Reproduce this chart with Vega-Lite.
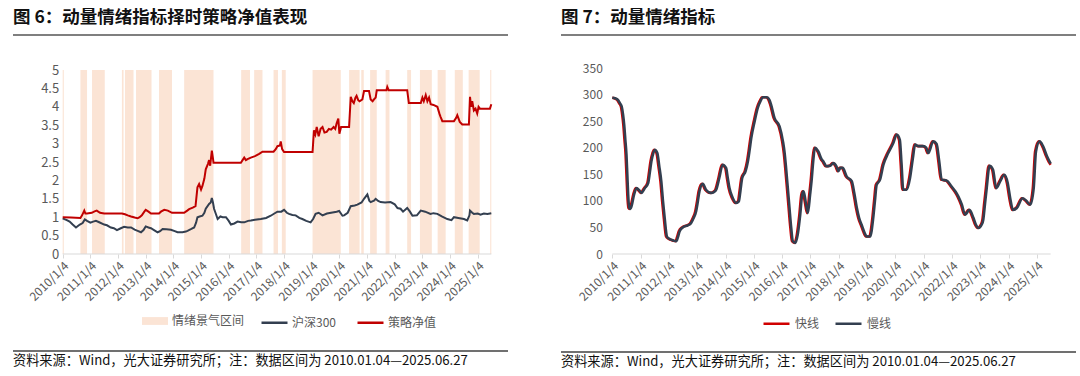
{
  "$schema": "https://vega.github.io/schema/vega-lite/v6.json",
  "background": "white",
  "padding": {"left": 12, "top": 8, "right": 0, "bottom": 0},
  "config": {
    "font": "Noto Sans CJK SC",
    "view": {"stroke": null},
    "axis": {"labelFont": "Noto Sans CJK SC", "labelColor": "#595959", "grid": false, "tickCount": 100, "labelOverlap": false},
    "legend": {"labelFont": "Noto Sans CJK SC"},
    "title": {"font": "Noto Sans CJK SC"}
  },
  "datasets": {
    "bands": [
      {"start": 2010.00, "end": 2010.04}, {"start": 2010.64, "end": 2010.88}, {"start": 2011.06, "end": 2011.52},
      {"start": 2012.14, "end": 2012.20}, {"start": 2012.25, "end": 2012.56}, {"start": 2012.65, "end": 2013.21},
      {"start": 2013.48, "end": 2013.95}, {"start": 2014.39, "end": 2015.45}, {"start": 2016.45, "end": 2016.77},
      {"start": 2016.92, "end": 2017.22}, {"start": 2017.62, "end": 2017.78}, {"start": 2017.92, "end": 2018.06},
      {"start": 2019.03, "end": 2020.05}, {"start": 2020.35, "end": 2020.73}, {"start": 2020.79, "end": 2020.88},
      {"start": 2021.11, "end": 2021.35}, {"start": 2021.67, "end": 2021.81}, {"start": 2022.45, "end": 2022.59},
      {"start": 2022.91, "end": 2023.34}, {"start": 2023.55, "end": 2023.84}, {"start": 2024.17, "end": 2024.46},
      {"start": 2024.67, "end": 2025.07}, {"start": 2025.45, "end": 2025.49}
    ],
    "hs300": [
      {"t": 2010.00, "v": 0.97}, {"t": 2010.06, "v": 0.95}, {"t": 2010.15, "v": 0.92}, {"t": 2010.25, "v": 0.88},
      {"t": 2010.36, "v": 0.80}, {"t": 2010.48, "v": 0.72}, {"t": 2010.55, "v": 0.76}, {"t": 2010.62, "v": 0.80},
      {"t": 2010.72, "v": 0.84}, {"t": 2010.80, "v": 0.94}, {"t": 2010.88, "v": 0.90}, {"t": 2011.00, "v": 0.85},
      {"t": 2011.10, "v": 0.88}, {"t": 2011.20, "v": 0.90}, {"t": 2011.30, "v": 0.87}, {"t": 2011.50, "v": 0.80},
      {"t": 2011.60, "v": 0.78}, {"t": 2011.74, "v": 0.72}, {"t": 2011.85, "v": 0.70}, {"t": 2011.96, "v": 0.65},
      {"t": 2012.10, "v": 0.70}, {"t": 2012.22, "v": 0.74}, {"t": 2012.35, "v": 0.72}, {"t": 2012.47, "v": 0.72},
      {"t": 2012.60, "v": 0.66}, {"t": 2012.71, "v": 0.63}, {"t": 2012.83, "v": 0.59}, {"t": 2012.92, "v": 0.65},
      {"t": 2013.00, "v": 0.75}, {"t": 2013.10, "v": 0.72}, {"t": 2013.19, "v": 0.70}, {"t": 2013.30, "v": 0.65},
      {"t": 2013.43, "v": 0.59}, {"t": 2013.52, "v": 0.62}, {"t": 2013.61, "v": 0.68}, {"t": 2013.75, "v": 0.67},
      {"t": 2013.91, "v": 0.66}, {"t": 2014.05, "v": 0.62}, {"t": 2014.15, "v": 0.59}, {"t": 2014.33, "v": 0.59},
      {"t": 2014.45, "v": 0.61}, {"t": 2014.51, "v": 0.63}, {"t": 2014.65, "v": 0.68}, {"t": 2014.75, "v": 0.72},
      {"t": 2014.82, "v": 0.85}, {"t": 2014.87, "v": 1.00}, {"t": 2014.95, "v": 1.02}, {"t": 2015.05, "v": 1.04},
      {"t": 2015.12, "v": 1.12}, {"t": 2015.17, "v": 1.23}, {"t": 2015.29, "v": 1.36}, {"t": 2015.35, "v": 1.40},
      {"t": 2015.39, "v": 1.52}, {"t": 2015.43, "v": 1.40}, {"t": 2015.47, "v": 1.23}, {"t": 2015.53, "v": 1.10},
      {"t": 2015.60, "v": 0.95}, {"t": 2015.70, "v": 1.02}, {"t": 2015.78, "v": 1.00}, {"t": 2015.90, "v": 1.00},
      {"t": 2016.00, "v": 0.90}, {"t": 2016.08, "v": 0.80}, {"t": 2016.20, "v": 0.83}, {"t": 2016.32, "v": 0.88},
      {"t": 2016.45, "v": 0.86}, {"t": 2016.56, "v": 0.86}, {"t": 2016.70, "v": 0.90}, {"t": 2016.80, "v": 0.91},
      {"t": 2016.95, "v": 0.93}, {"t": 2017.16, "v": 0.95}, {"t": 2017.35, "v": 0.98}, {"t": 2017.52, "v": 1.04},
      {"t": 2017.65, "v": 1.10}, {"t": 2017.76, "v": 1.15}, {"t": 2017.90, "v": 1.15}, {"t": 2018.00, "v": 1.20},
      {"t": 2018.10, "v": 1.12}, {"t": 2018.18, "v": 1.09}, {"t": 2018.30, "v": 1.06}, {"t": 2018.42, "v": 1.05},
      {"t": 2018.55, "v": 0.98}, {"t": 2018.66, "v": 0.95}, {"t": 2018.80, "v": 0.90}, {"t": 2018.96, "v": 0.86},
      {"t": 2019.05, "v": 0.95}, {"t": 2019.14, "v": 1.09}, {"t": 2019.25, "v": 1.12}, {"t": 2019.39, "v": 1.05},
      {"t": 2019.55, "v": 1.10}, {"t": 2019.75, "v": 1.13}, {"t": 2019.90, "v": 1.15}, {"t": 2019.99, "v": 1.17},
      {"t": 2020.11, "v": 1.04}, {"t": 2020.17, "v": 1.05}, {"t": 2020.30, "v": 1.12}, {"t": 2020.41, "v": 1.30},
      {"t": 2020.55, "v": 1.32}, {"t": 2020.65, "v": 1.34}, {"t": 2020.80, "v": 1.40}, {"t": 2020.89, "v": 1.50},
      {"t": 2021.01, "v": 1.62}, {"t": 2021.08, "v": 1.45}, {"t": 2021.13, "v": 1.41}, {"t": 2021.25, "v": 1.45},
      {"t": 2021.31, "v": 1.50}, {"t": 2021.40, "v": 1.44}, {"t": 2021.49, "v": 1.41}, {"t": 2021.65, "v": 1.40},
      {"t": 2021.85, "v": 1.41}, {"t": 2022.00, "v": 1.35}, {"t": 2022.10, "v": 1.25}, {"t": 2022.21, "v": 1.23},
      {"t": 2022.30, "v": 1.15}, {"t": 2022.45, "v": 1.25}, {"t": 2022.55, "v": 1.15}, {"t": 2022.64, "v": 1.04},
      {"t": 2022.80, "v": 1.05}, {"t": 2022.94, "v": 1.18}, {"t": 2023.10, "v": 1.15}, {"t": 2023.29, "v": 1.09},
      {"t": 2023.40, "v": 1.11}, {"t": 2023.54, "v": 1.09}, {"t": 2023.70, "v": 1.02}, {"t": 2023.90, "v": 0.95},
      {"t": 2024.05, "v": 0.92}, {"t": 2024.14, "v": 1.00}, {"t": 2024.30, "v": 0.98}, {"t": 2024.50, "v": 0.95},
      {"t": 2024.62, "v": 0.91}, {"t": 2024.70, "v": 1.05}, {"t": 2024.72, "v": 1.18}, {"t": 2024.80, "v": 1.12},
      {"t": 2024.86, "v": 1.09}, {"t": 2025.00, "v": 1.10}, {"t": 2025.10, "v": 1.07}, {"t": 2025.22, "v": 1.10},
      {"t": 2025.35, "v": 1.09}, {"t": 2025.49, "v": 1.11}
    ],
    "strategy": [
      {"t": 2010.00, "v": 1.00}, {"t": 2010.30, "v": 0.99}, {"t": 2010.64, "v": 0.98}, {"t": 2010.70, "v": 1.05},
      {"t": 2010.78, "v": 1.18}, {"t": 2010.82, "v": 1.10}, {"t": 2010.88, "v": 1.10}, {"t": 2011.05, "v": 1.12},
      {"t": 2011.15, "v": 1.16}, {"t": 2011.23, "v": 1.18}, {"t": 2011.35, "v": 1.12}, {"t": 2011.50, "v": 1.10},
      {"t": 2012.14, "v": 1.10}, {"t": 2012.25, "v": 1.08}, {"t": 2012.35, "v": 1.05}, {"t": 2012.47, "v": 1.02},
      {"t": 2012.60, "v": 0.99}, {"t": 2012.71, "v": 0.97}, {"t": 2012.78, "v": 1.00}, {"t": 2012.86, "v": 1.05},
      {"t": 2012.95, "v": 1.15}, {"t": 2013.00, "v": 1.20}, {"t": 2013.10, "v": 1.15}, {"t": 2013.19, "v": 1.10},
      {"t": 2013.48, "v": 1.10}, {"t": 2013.55, "v": 1.15}, {"t": 2013.67, "v": 1.20}, {"t": 2013.80, "v": 1.18},
      {"t": 2013.95, "v": 1.12}, {"t": 2014.39, "v": 1.12}, {"t": 2014.50, "v": 1.18}, {"t": 2014.57, "v": 1.22},
      {"t": 2014.70, "v": 1.26}, {"t": 2014.80, "v": 1.30}, {"t": 2014.87, "v": 1.81}, {"t": 2014.93, "v": 1.90},
      {"t": 2015.00, "v": 1.75}, {"t": 2015.05, "v": 1.85}, {"t": 2015.12, "v": 2.05}, {"t": 2015.17, "v": 2.30},
      {"t": 2015.25, "v": 2.45}, {"t": 2015.29, "v": 2.55}, {"t": 2015.33, "v": 2.40}, {"t": 2015.39, "v": 2.81},
      {"t": 2015.43, "v": 2.60}, {"t": 2015.45, "v": 2.48}, {"t": 2016.44, "v": 2.48}, {"t": 2016.50, "v": 2.55},
      {"t": 2016.56, "v": 2.62}, {"t": 2016.62, "v": 2.55}, {"t": 2016.68, "v": 2.58}, {"t": 2016.80, "v": 2.62},
      {"t": 2016.95, "v": 2.66}, {"t": 2017.10, "v": 2.72}, {"t": 2017.22, "v": 2.78}, {"t": 2017.62, "v": 2.78},
      {"t": 2017.70, "v": 2.85}, {"t": 2017.76, "v": 2.93}, {"t": 2017.85, "v": 2.95}, {"t": 2017.88, "v": 3.06},
      {"t": 2017.93, "v": 2.85}, {"t": 2018.00, "v": 2.77}, {"t": 2019.03, "v": 2.77}, {"t": 2019.08, "v": 3.36},
      {"t": 2019.13, "v": 3.25}, {"t": 2019.18, "v": 3.45}, {"t": 2019.25, "v": 3.20}, {"t": 2019.32, "v": 3.40},
      {"t": 2019.39, "v": 3.45}, {"t": 2019.46, "v": 3.30}, {"t": 2019.54, "v": 3.32}, {"t": 2019.62, "v": 3.40},
      {"t": 2019.70, "v": 3.38}, {"t": 2019.79, "v": 3.45}, {"t": 2019.85, "v": 3.40}, {"t": 2019.90, "v": 3.55},
      {"t": 2019.96, "v": 3.68}, {"t": 2020.00, "v": 3.27}, {"t": 2020.06, "v": 3.45}, {"t": 2020.35, "v": 3.45},
      {"t": 2020.41, "v": 4.27}, {"t": 2020.47, "v": 4.15}, {"t": 2020.52, "v": 4.10}, {"t": 2020.58, "v": 4.25},
      {"t": 2020.62, "v": 4.30}, {"t": 2020.68, "v": 4.18}, {"t": 2020.73, "v": 4.15}, {"t": 2020.83, "v": 4.20},
      {"t": 2020.89, "v": 4.43}, {"t": 2021.07, "v": 4.43}, {"t": 2021.13, "v": 4.20}, {"t": 2021.20, "v": 4.15},
      {"t": 2021.27, "v": 4.22}, {"t": 2021.31, "v": 4.25}, {"t": 2021.35, "v": 4.45}, {"t": 2021.70, "v": 4.45},
      {"t": 2021.73, "v": 4.54}, {"t": 2021.78, "v": 4.45}, {"t": 2022.45, "v": 4.45}, {"t": 2022.51, "v": 4.10},
      {"t": 2022.94, "v": 4.10}, {"t": 2023.00, "v": 4.25}, {"t": 2023.05, "v": 4.15}, {"t": 2023.12, "v": 4.32},
      {"t": 2023.18, "v": 4.15}, {"t": 2023.24, "v": 4.25}, {"t": 2023.30, "v": 4.07}, {"t": 2023.40, "v": 4.05},
      {"t": 2023.54, "v": 4.00}, {"t": 2023.62, "v": 3.80}, {"t": 2023.66, "v": 3.72}, {"t": 2023.72, "v": 3.61},
      {"t": 2024.14, "v": 3.61}, {"t": 2024.22, "v": 3.70}, {"t": 2024.26, "v": 3.77}, {"t": 2024.32, "v": 3.65},
      {"t": 2024.35, "v": 3.59}, {"t": 2024.44, "v": 3.52}, {"t": 2024.68, "v": 3.52}, {"t": 2024.72, "v": 4.27},
      {"t": 2024.76, "v": 4.00}, {"t": 2024.80, "v": 4.15}, {"t": 2024.86, "v": 3.90}, {"t": 2024.92, "v": 3.95},
      {"t": 2024.98, "v": 3.82}, {"t": 2025.03, "v": 4.00}, {"t": 2025.08, "v": 3.95}, {"t": 2025.44, "v": 3.95},
      {"t": 2025.49, "v": 4.07}
    ],
    "slow": [
      {"t": 2010.00, "v": 294}, {"t": 2010.10, "v": 293}, {"t": 2010.20, "v": 290}, {"t": 2010.28, "v": 283},
      {"t": 2010.33, "v": 278}, {"t": 2010.38, "v": 262}, {"t": 2010.42, "v": 243}, {"t": 2010.46, "v": 215},
      {"t": 2010.50, "v": 187}, {"t": 2010.53, "v": 150}, {"t": 2010.56, "v": 112}, {"t": 2010.60, "v": 87},
      {"t": 2010.64, "v": 85}, {"t": 2010.68, "v": 90}, {"t": 2010.77, "v": 112}, {"t": 2010.86, "v": 124},
      {"t": 2010.95, "v": 120}, {"t": 2011.03, "v": 115}, {"t": 2011.15, "v": 124}, {"t": 2011.27, "v": 134},
      {"t": 2011.33, "v": 155}, {"t": 2011.38, "v": 174}, {"t": 2011.45, "v": 190}, {"t": 2011.50, "v": 196},
      {"t": 2011.59, "v": 190}, {"t": 2011.66, "v": 165}, {"t": 2011.73, "v": 137}, {"t": 2011.79, "v": 100},
      {"t": 2011.85, "v": 68}, {"t": 2011.93, "v": 33}, {"t": 2012.00, "v": 29}, {"t": 2012.08, "v": 27},
      {"t": 2012.18, "v": 25}, {"t": 2012.26, "v": 24}, {"t": 2012.32, "v": 32}, {"t": 2012.38, "v": 43},
      {"t": 2012.49, "v": 50}, {"t": 2012.67, "v": 54}, {"t": 2012.78, "v": 58}, {"t": 2012.85, "v": 65},
      {"t": 2012.96, "v": 80}, {"t": 2013.02, "v": 98}, {"t": 2013.08, "v": 118}, {"t": 2013.20, "v": 132},
      {"t": 2013.31, "v": 121}, {"t": 2013.49, "v": 115}, {"t": 2013.60, "v": 117}, {"t": 2013.67, "v": 121},
      {"t": 2013.78, "v": 143}, {"t": 2013.90, "v": 168}, {"t": 2014.02, "v": 162}, {"t": 2014.08, "v": 143},
      {"t": 2014.14, "v": 124}, {"t": 2014.26, "v": 105}, {"t": 2014.38, "v": 96}, {"t": 2014.47, "v": 99},
      {"t": 2014.53, "v": 120}, {"t": 2014.59, "v": 143}, {"t": 2014.71, "v": 156}, {"t": 2014.79, "v": 174},
      {"t": 2014.85, "v": 195}, {"t": 2014.91, "v": 218}, {"t": 2015.03, "v": 250}, {"t": 2015.14, "v": 275},
      {"t": 2015.24, "v": 288}, {"t": 2015.32, "v": 295}, {"t": 2015.46, "v": 295}, {"t": 2015.55, "v": 290},
      {"t": 2015.61, "v": 281}, {"t": 2015.73, "v": 256}, {"t": 2015.91, "v": 240}, {"t": 2016.03, "v": 212},
      {"t": 2016.09, "v": 190}, {"t": 2016.14, "v": 162}, {"t": 2016.20, "v": 125}, {"t": 2016.26, "v": 87},
      {"t": 2016.32, "v": 50}, {"t": 2016.38, "v": 24}, {"t": 2016.47, "v": 21}, {"t": 2016.55, "v": 36},
      {"t": 2016.64, "v": 74}, {"t": 2016.71, "v": 112}, {"t": 2016.76, "v": 118}, {"t": 2016.83, "v": 99},
      {"t": 2016.91, "v": 77}, {"t": 2016.99, "v": 112}, {"t": 2017.04, "v": 137}, {"t": 2017.10, "v": 175},
      {"t": 2017.16, "v": 200}, {"t": 2017.28, "v": 193}, {"t": 2017.40, "v": 178}, {"t": 2017.46, "v": 174},
      {"t": 2017.57, "v": 165}, {"t": 2017.70, "v": 166}, {"t": 2017.81, "v": 171}, {"t": 2017.92, "v": 165},
      {"t": 2017.99, "v": 156}, {"t": 2018.06, "v": 162}, {"t": 2018.14, "v": 162}, {"t": 2018.28, "v": 146},
      {"t": 2018.46, "v": 137}, {"t": 2018.55, "v": 115}, {"t": 2018.64, "v": 87}, {"t": 2018.72, "v": 68},
      {"t": 2018.81, "v": 55}, {"t": 2018.90, "v": 42}, {"t": 2018.99, "v": 33}, {"t": 2019.11, "v": 33},
      {"t": 2019.22, "v": 68}, {"t": 2019.28, "v": 100}, {"t": 2019.34, "v": 130}, {"t": 2019.46, "v": 140},
      {"t": 2019.58, "v": 168}, {"t": 2019.75, "v": 190}, {"t": 2019.93, "v": 209}, {"t": 2020.05, "v": 225},
      {"t": 2020.16, "v": 215}, {"t": 2020.22, "v": 170}, {"t": 2020.28, "v": 121}, {"t": 2020.40, "v": 121},
      {"t": 2020.52, "v": 143}, {"t": 2020.62, "v": 180}, {"t": 2020.70, "v": 206}, {"t": 2020.81, "v": 203},
      {"t": 2020.99, "v": 203}, {"t": 2021.09, "v": 200}, {"t": 2021.17, "v": 190}, {"t": 2021.34, "v": 212},
      {"t": 2021.46, "v": 207}, {"t": 2021.55, "v": 175}, {"t": 2021.64, "v": 140}, {"t": 2021.82, "v": 138},
      {"t": 2021.99, "v": 127}, {"t": 2022.12, "v": 118}, {"t": 2022.23, "v": 108}, {"t": 2022.35, "v": 93},
      {"t": 2022.47, "v": 74}, {"t": 2022.62, "v": 83}, {"t": 2022.76, "v": 68}, {"t": 2022.85, "v": 55},
      {"t": 2022.94, "v": 49}, {"t": 2023.05, "v": 55}, {"t": 2023.11, "v": 65}, {"t": 2023.17, "v": 95},
      {"t": 2023.23, "v": 124}, {"t": 2023.33, "v": 166}, {"t": 2023.45, "v": 159}, {"t": 2023.57, "v": 124},
      {"t": 2023.71, "v": 137}, {"t": 2023.85, "v": 149}, {"t": 2023.97, "v": 134}, {"t": 2024.06, "v": 105},
      {"t": 2024.16, "v": 83}, {"t": 2024.30, "v": 87}, {"t": 2024.50, "v": 105}, {"t": 2024.63, "v": 100},
      {"t": 2024.77, "v": 93}, {"t": 2024.89, "v": 124}, {"t": 2024.97, "v": 193}, {"t": 2025.10, "v": 212},
      {"t": 2025.22, "v": 203}, {"t": 2025.36, "v": 184}, {"t": 2025.48, "v": 171}, {"t": 2025.49, "v": 170}
    ],
    "fast": [
      {"t": 2010.00, "v": 294}, {"t": 2010.07, "v": 293}, {"t": 2010.17, "v": 290}, {"t": 2010.25, "v": 283},
      {"t": 2010.30, "v": 278}, {"t": 2010.35, "v": 262}, {"t": 2010.39, "v": 243}, {"t": 2010.43, "v": 215},
      {"t": 2010.47, "v": 187}, {"t": 2010.50, "v": 150}, {"t": 2010.53, "v": 112}, {"t": 2010.57, "v": 87},
      {"t": 2010.61, "v": 85}, {"t": 2010.65, "v": 90}, {"t": 2010.74, "v": 112}, {"t": 2010.83, "v": 124},
      {"t": 2010.92, "v": 120}, {"t": 2011.00, "v": 115}, {"t": 2011.12, "v": 124}, {"t": 2011.24, "v": 134},
      {"t": 2011.30, "v": 155}, {"t": 2011.35, "v": 174}, {"t": 2011.42, "v": 190}, {"t": 2011.47, "v": 196},
      {"t": 2011.56, "v": 190}, {"t": 2011.63, "v": 165}, {"t": 2011.70, "v": 137}, {"t": 2011.76, "v": 100},
      {"t": 2011.82, "v": 68}, {"t": 2011.90, "v": 33}, {"t": 2011.97, "v": 29}, {"t": 2012.05, "v": 27},
      {"t": 2012.15, "v": 25}, {"t": 2012.23, "v": 24}, {"t": 2012.29, "v": 32}, {"t": 2012.35, "v": 43},
      {"t": 2012.46, "v": 50}, {"t": 2012.64, "v": 54}, {"t": 2012.75, "v": 58}, {"t": 2012.82, "v": 65},
      {"t": 2012.93, "v": 80}, {"t": 2012.99, "v": 98}, {"t": 2013.05, "v": 118}, {"t": 2013.17, "v": 132},
      {"t": 2013.28, "v": 121}, {"t": 2013.46, "v": 115}, {"t": 2013.57, "v": 117}, {"t": 2013.64, "v": 121},
      {"t": 2013.75, "v": 143}, {"t": 2013.87, "v": 168}, {"t": 2013.99, "v": 162}, {"t": 2014.05, "v": 143},
      {"t": 2014.11, "v": 124}, {"t": 2014.23, "v": 105}, {"t": 2014.35, "v": 96}, {"t": 2014.44, "v": 99},
      {"t": 2014.50, "v": 120}, {"t": 2014.56, "v": 143}, {"t": 2014.68, "v": 156}, {"t": 2014.76, "v": 174},
      {"t": 2014.82, "v": 195}, {"t": 2014.88, "v": 218}, {"t": 2015.00, "v": 250}, {"t": 2015.11, "v": 275},
      {"t": 2015.21, "v": 288}, {"t": 2015.29, "v": 295}, {"t": 2015.43, "v": 295}, {"t": 2015.52, "v": 290},
      {"t": 2015.58, "v": 281}, {"t": 2015.70, "v": 256}, {"t": 2015.88, "v": 240}, {"t": 2016.00, "v": 212},
      {"t": 2016.06, "v": 190}, {"t": 2016.11, "v": 162}, {"t": 2016.17, "v": 125}, {"t": 2016.23, "v": 87},
      {"t": 2016.29, "v": 50}, {"t": 2016.35, "v": 24}, {"t": 2016.44, "v": 21}, {"t": 2016.52, "v": 36},
      {"t": 2016.61, "v": 74}, {"t": 2016.68, "v": 112}, {"t": 2016.73, "v": 118}, {"t": 2016.80, "v": 99},
      {"t": 2016.88, "v": 77}, {"t": 2016.96, "v": 112}, {"t": 2017.01, "v": 137}, {"t": 2017.07, "v": 175},
      {"t": 2017.13, "v": 200}, {"t": 2017.25, "v": 193}, {"t": 2017.37, "v": 178}, {"t": 2017.43, "v": 174},
      {"t": 2017.54, "v": 165}, {"t": 2017.67, "v": 166}, {"t": 2017.78, "v": 171}, {"t": 2017.89, "v": 165},
      {"t": 2017.96, "v": 156}, {"t": 2018.03, "v": 162}, {"t": 2018.11, "v": 162}, {"t": 2018.25, "v": 146},
      {"t": 2018.43, "v": 137}, {"t": 2018.52, "v": 115}, {"t": 2018.61, "v": 87}, {"t": 2018.69, "v": 68},
      {"t": 2018.78, "v": 55}, {"t": 2018.87, "v": 42}, {"t": 2018.96, "v": 33}, {"t": 2019.08, "v": 33},
      {"t": 2019.19, "v": 68}, {"t": 2019.25, "v": 100}, {"t": 2019.31, "v": 130}, {"t": 2019.43, "v": 140},
      {"t": 2019.55, "v": 168}, {"t": 2019.72, "v": 190}, {"t": 2019.90, "v": 209}, {"t": 2020.02, "v": 225},
      {"t": 2020.13, "v": 215}, {"t": 2020.19, "v": 170}, {"t": 2020.25, "v": 121}, {"t": 2020.37, "v": 121},
      {"t": 2020.49, "v": 143}, {"t": 2020.59, "v": 180}, {"t": 2020.67, "v": 206}, {"t": 2020.78, "v": 203},
      {"t": 2020.96, "v": 203}, {"t": 2021.06, "v": 200}, {"t": 2021.14, "v": 190}, {"t": 2021.31, "v": 212},
      {"t": 2021.43, "v": 207}, {"t": 2021.52, "v": 175}, {"t": 2021.61, "v": 140}, {"t": 2021.79, "v": 138},
      {"t": 2021.96, "v": 127}, {"t": 2022.09, "v": 118}, {"t": 2022.20, "v": 108}, {"t": 2022.32, "v": 93},
      {"t": 2022.44, "v": 74}, {"t": 2022.59, "v": 83}, {"t": 2022.73, "v": 68}, {"t": 2022.82, "v": 55},
      {"t": 2022.91, "v": 49}, {"t": 2023.02, "v": 55}, {"t": 2023.08, "v": 65}, {"t": 2023.14, "v": 95},
      {"t": 2023.20, "v": 124}, {"t": 2023.30, "v": 166}, {"t": 2023.42, "v": 159}, {"t": 2023.54, "v": 124},
      {"t": 2023.68, "v": 137}, {"t": 2023.82, "v": 149}, {"t": 2023.94, "v": 134}, {"t": 2024.03, "v": 105},
      {"t": 2024.13, "v": 83}, {"t": 2024.27, "v": 87}, {"t": 2024.47, "v": 105}, {"t": 2024.60, "v": 100},
      {"t": 2024.74, "v": 93}, {"t": 2024.86, "v": 124}, {"t": 2024.94, "v": 193}, {"t": 2025.07, "v": 212},
      {"t": 2025.19, "v": 203}, {"t": 2025.33, "v": 184}, {"t": 2025.45, "v": 171}, {"t": 2025.49, "v": 168}
    ]
  },
  "resolve": {"scale": {"color": "independent", "fill": "independent", "stroke": "independent"}, "legend": {"color": "independent", "fill": "independent", "stroke": "independent"}},
  "spacing": 51,
  "hconcat": [
    {
      "spacing": 47,
      "vconcat": [
        {
          "spacing": 28,
          "vconcat": [
            {
              "width": 495, "height": 1,
              "title": {"text": "图 6：动量情绪指标择时策略净值表现", "anchor": "start", "frame": "group", "fontSize": 17.5, "fontWeight": "bold", "color": "#111111", "offset": 8},
              "data": {"values": [{}]},
              "mark": {"type": "rule", "color": "#7f7f7f", "strokeWidth": 2},
              "encoding": {"y": {"datum": 0, "type": "quantitative", "axis": null}}
            },
            {
              "width": 495, "height": 184,
              "layer": [
                {
                  "data": {"name": "bands"},
                  "mark": {"type": "rect", "opacity": 1},
                  "encoding": {
                    "x": {"field": "start", "type": "quantitative", "scale": {"domain": [2008.204, 2026.093], "nice": false, "zero": false},
                      "axis": {"values": [2010, 2011, 2012, 2013, 2014, 2015, 2016, 2017, 2018, 2019, 2020, 2021, 2022, 2023, 2024, 2025], "tickCount": 100, "labelExpr": "datum.value + '/1/4'", "labelAngle": -45, "labelFontSize": 12, "labelColor": "#595959", "domain": false, "tickColor": "#D9D9D9", "tickSize": 4, "title": null, "labelPadding": 2, "labelOverlap": false, "grid": false}},
                    "x2": {"field": "end"},
                    "fill": {"datum": "情绪景气区间", "type": "nominal",
                      "scale": {"domain": ["情绪景气区间"], "range": ["#FBE4D5"]},
                      "legend": {"orient": "none", "legendX": 129, "legendY": 273, "title": null, "symbolType": "M-1,-0.3H1V0.3H-1Z", "symbolSize": 676, "symbolStrokeWidth": 0, "symbolOpacity": 1, "labelFontSize": 12, "labelColor": "#595959", "labelOffset": 4}
                    }
                  }
                },
                {
                  "data": {"values": [{}]},
                  "mark": {"type": "rule", "color": "#D9D9D9", "strokeWidth": 1},
                  "encoding": {
                    "x": {"datum": 2010, "type": "quantitative"},
                    "x2": {"datum": 2025.49},
                    "y": {"datum": 0, "type": "quantitative"}
                  }
                },
                {
                  "data": {"name": "hs300"},
                  "mark": {"type": "line", "strokeWidth": 2},
                  "encoding": {
                    "x": {"field": "t", "type": "quantitative"},
                    "y": {"field": "v", "type": "quantitative", "scale": {"domain": [0, 5], "nice": false},
                      "axis": {"values": [0, 0.5, 1, 1.5, 2, 2.5, 3, 3.5, 4, 4.5, 5], "tickCount": 100, "format": "~g", "domain": false, "ticks": false, "title": null, "offset": -49.7, "labelPadding": 4, "labelFontSize": 13, "labelColor": "#595959", "labelOverlap": false, "grid": false}},
                    "stroke": {"datum": "沪深300", "type": "nominal",
                      "scale": {"domain": ["沪深300", "策略净值"], "range": ["#333F50", "#C00000"]},
                      "legend": {"orient": "none", "legendX": 247, "legendY": 273, "direction": "horizontal", "title": null, "symbolType": "stroke", "symbolSize": 676, "symbolStrokeWidth": 2.5, "symbolOpacity": 1, "labelFontSize": 12, "labelColor": "#595959", "columnPadding": 16, "labelOffset": 3}
                    }
                  }
                },
                {
                  "data": {"name": "strategy"},
                  "mark": {"type": "line", "strokeWidth": 2},
                  "encoding": {
                    "x": {"field": "t", "type": "quantitative"},
                    "y": {"field": "v", "type": "quantitative"},
                    "stroke": {"datum": "策略净值", "type": "nominal"}
                  }
                }
              ]
            }
          ]
        },
        {
          "width": 495, "height": 1,
          "title": {"text": "资料来源：Wind，光大证券研究所；注：数据区间为 2010.01.04—2025.06.27", "orient": "bottom", "anchor": "start", "frame": "group", "fontSize": 13.2, "fontWeight": "normal", "color": "#111111", "offset": 3},
          "data": {"values": [{}]},
          "mark": {"type": "rule", "color": "#404040", "strokeWidth": 1.5},
          "encoding": {"y": {"datum": 0, "type": "quantitative", "axis": null}}
        }
      ]
    },
    {
      "spacing": 48,
      "vconcat": [
        {
          "spacing": 26,
          "vconcat": [
            {
              "width": 515, "height": 1,
              "title": {"text": "图 7：动量情绪指标", "anchor": "start", "frame": "group", "fontSize": 17.5, "fontWeight": "bold", "color": "#111111", "offset": 8},
              "data": {"values": [{}]},
              "mark": {"type": "rule", "color": "#7f7f7f", "strokeWidth": 2},
              "encoding": {"y": {"datum": 0, "type": "quantitative", "axis": null}}
            },
            {
              "width": 515, "height": 186,
              "layer": [
                {
                  "data": {"values": [{}]},
                  "mark": {"type": "rule", "color": "#D9D9D9", "strokeWidth": 1},
                  "encoding": {
                    "x": {"datum": 2010, "type": "quantitative", "scale": {"domain": [2008.187, 2026.385], "nice": false, "zero": false},
                      "axis": {"values": [2010, 2011, 2012, 2013, 2014, 2015, 2016, 2017, 2018, 2019, 2020, 2021, 2022, 2023, 2024, 2025], "tickCount": 100, "labelExpr": "datum.value + '/1/4'", "labelAngle": -45, "labelFontSize": 12, "labelColor": "#595959", "domain": false, "tickColor": "#D9D9D9", "tickSize": 4, "title": null, "labelPadding": 2, "labelOverlap": false, "grid": false}},
                    "x2": {"datum": 2025.49},
                    "y": {"datum": 0, "type": "quantitative", "scale": {"domain": [0, 350], "nice": false},
                      "axis": {"values": [0, 50, 100, 150, 200, 250, 300, 350], "tickCount": 100, "domain": false, "ticks": false, "title": null, "offset": -51.3, "labelPadding": 10, "labelFontSize": 12, "labelColor": "#595959", "labelOverlap": false, "grid": false}}
                  }
                },
                {
                  "data": {"name": "fast"},
                  "mark": {"type": "line", "strokeWidth": 2.6, "interpolate": "monotone"},
                  "encoding": {
                    "x": {"field": "t", "type": "quantitative"},
                    "y": {"field": "v", "type": "quantitative"},
                    "stroke": {"datum": "快线", "type": "nominal",
                      "scale": {"domain": ["快线", "慢线"], "range": ["#D00000", "#333F50"]},
                      "legend": {"orient": "none", "legendX": 201, "legendY": 274, "direction": "horizontal", "title": null, "symbolType": "stroke", "symbolSize": 676, "symbolStrokeWidth": 2.5, "symbolOpacity": 1, "labelFontSize": 12, "labelColor": "#595959", "columnPadding": 10, "labelOffset": 4}
                    }
                  }
                },
                {
                  "data": {"name": "slow"},
                  "mark": {"type": "line", "strokeWidth": 2.6, "interpolate": "monotone"},
                  "encoding": {
                    "x": {"field": "t", "type": "quantitative"},
                    "y": {"field": "v", "type": "quantitative"},
                    "stroke": {"datum": "慢线", "type": "nominal"}
                  }
                }
              ]
            }
          ]
        },
        {
          "width": 515, "height": 1,
          "title": {"text": "资料来源：Wind，光大证券研究所；注：数据区间为 2010.01.04—2025.06.27", "orient": "bottom", "anchor": "start", "frame": "group", "fontSize": 13.2, "fontWeight": "normal", "color": "#111111", "offset": 3},
          "data": {"values": [{}]},
          "mark": {"type": "rule", "color": "#404040", "strokeWidth": 1.5},
          "encoding": {"y": {"datum": 0, "type": "quantitative", "axis": null}}
        }
      ]
    }
  ]
}
